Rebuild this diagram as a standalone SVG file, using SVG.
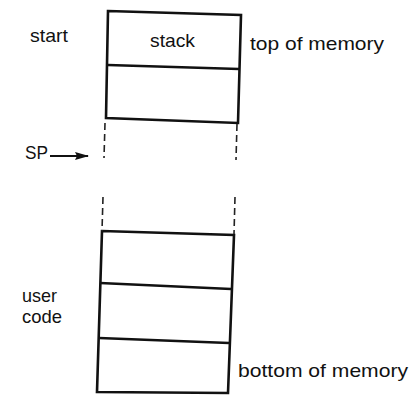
<svg xmlns="http://www.w3.org/2000/svg" width="411" height="395" viewBox="0 0 411 395">
<style>
.box{fill:none;stroke:#111;stroke-width:2.6;stroke-linejoin:miter}
.div{stroke:#111;stroke-width:2.6}
.dash{stroke:#222;stroke-width:1.6;stroke-dasharray:7 4;fill:none}
text{font-family:"Liberation Sans",Arial,sans-serif;font-size:19px;fill:#111}
</style>
<defs>
<marker id="ah" markerWidth="14" markerHeight="8" refX="13" refY="4" orient="auto" markerUnits="userSpaceOnUse">
<path d="M0,0 L14,4 L0,8 L2,4 Z" fill="#111"/>
</marker>
</defs>
<rect width="411" height="395" fill="#fff"/>
<g id="stack-region">
<path class="box" d="M108,11 L241,15 L238,123 L106,118 Z"/>
<line class="div" x1="108" y1="65" x2="239" y2="69"/>
<text x="150" y="47" textLength="45" lengthAdjust="spacingAndGlyphs">stack</text>
</g>
<g id="user-code-region">
<path class="box" d="M102,231 L234,235 L228,393 L97,392 Z"/>
<line class="div" x1="100" y1="283" x2="231" y2="289"/>
<line class="div" x1="99" y1="338" x2="229" y2="343"/>
</g>
<g id="connectors">
<line class="dash" x1="105" y1="123" x2="104" y2="158"/>
<line class="dash" x1="237" y1="124" x2="236" y2="160"/>
<line class="dash" x1="103" y1="197" x2="102" y2="231"/>
<line class="dash" x1="235" y1="197" x2="234" y2="234"/>
<line x1="50" y1="156" x2="88" y2="156" stroke="#111" stroke-width="1.8" marker-end="url(#ah)"/>
</g>
<g id="labels">
<text x="30" y="42" textLength="38" lengthAdjust="spacingAndGlyphs">start</text>
<text x="250" y="50" textLength="134" lengthAdjust="spacingAndGlyphs">top of memory</text>
<text x="25" y="159" textLength="23" lengthAdjust="spacingAndGlyphs">SP</text>
<text x="22" y="302" textLength="35" lengthAdjust="spacingAndGlyphs">user</text>
<text x="22" y="323" textLength="40" lengthAdjust="spacingAndGlyphs">code</text>
<text x="238" y="377" textLength="170" lengthAdjust="spacingAndGlyphs">bottom of memory</text>
</g>
</svg>
